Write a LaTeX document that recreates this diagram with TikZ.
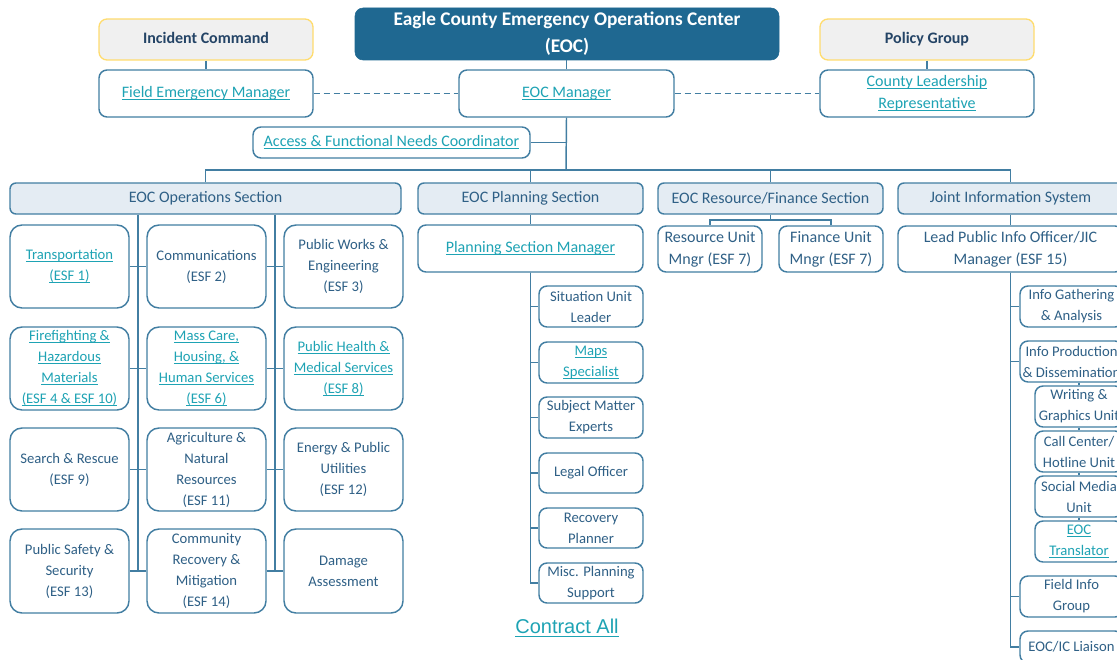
\documentclass[tikz,border=0pt]{standalone}
\usepackage{amsmath}
\usepackage{fontspec}
\setmainfont{Carlito}
\newfontfamily\arialf{Liberation Sans}
\usetikzlibrary{calc}
\definecolor{titlebg}{RGB}{31,104,145}
\definecolor{bord}{RGB}{66,126,162}
\definecolor{txt}{RGB}{47,96,134}
\definecolor{head}{RGB}{36,68,102}
\definecolor{lnk}{RGB}{30,163,180}
\definecolor{secbg}{RGB}{228,236,243}
\definecolor{grybg}{RGB}{240,240,240}
\definecolor{ylw}{RGB}{255,220,110}
\newcommand\lk[1]{\textcolor{lnk}{\underline{\smash[b]{#1}}}}
\newcommand\bx[7]{\node[#6, minimum width={(#4-#2)*0.75pt}, minimum height={(#5-#3)*0.75pt}] (#1) at ({(#2+#4)/2},{(#3+#5)/2}) {#7};}
\begin{document}
\begin{tikzpicture}[x=0.75pt,y=-0.75pt,
  base/.style={draw=bord, line width=1.1pt, align=center, inner sep=0pt, text=txt},
  titlebox/.style={fill=titlebg, draw=titlebg, rounded corners=6pt, text=white, align=center, inner sep=0pt, font=\bfseries\fontsize{14.5}{20.25}\selectfont},
  cmd/.style={fill=grybg, draw=ylw, line width=1pt, rounded corners=6pt, text=head, align=center, inner sep=0pt, text height=8.6pt, text depth=2.6pt, font=\bfseries\fontsize{12}{15}\selectfont},
  mgr/.style={base, fill=white, rounded corners=6pt, font=\fontsize{12}{16.5}\selectfont},
  sec/.style={base, fill=secbg, rounded corners=4.5pt, font=\fontsize{12}{15}\selectfont},
  esf/.style={base, fill=white, rounded corners=9pt, font=\fontsize{11}{15.75}\selectfont},
  subbox/.style={base, fill=white, rounded corners=6pt, font=\fontsize{11}{15.75}\selectfont},
  conn/.style={draw=bord, line width=1.1pt}]
\useasboundingbox (0,0) rectangle (1117,660);
\clip (0,0) rectangle (1117,660);
% top
\bx{title}{355}{8}{779}{60}{titlebox}{Eagle County Emergency Operations Center\\(EOC)}
\bx{ic}{99}{19}{313}{60}{cmd}{Incident Command}
\bx{pg}{820}{19}{1034}{60}{cmd}{Policy Group}
\bx{fem}{99}{70}{313}{117}{mgr}{\lk{Field Emergency Manager}}
\bx{eocm}{459}{70}{674}{117}{mgr}{\lk{EOC Manager}}
\bx{clr}{820}{70}{1034}{117}{mgr}{\lk{County Leadership}\\\lk{Representative}}
\bx{afn}{253}{127}{530}{158}{mgr}{\lk{Access \& Functional Needs Coordinator}}
% sections
\bx{ops}{10}{183}{401}{214}{sec}{EOC Operations Section}
\bx{plan}{418}{183}{643}{214}{sec}{EOC Planning Section}
\bx{rf}{658}{183}{883}{214}{sec}{EOC Resource/Finance Section}
\bx{jis}{898}{183}{1123}{214}{sec}{Joint Information System}
% ESF grid
\bx{a1}{10}{225}{129}{308}{esf}{\lk{Transportation}\\\lk{(ESF 1)}}
\bx{b1}{147}{225}{266}{308}{esf}{Communications\\(ESF 2)}
\bx{c1}{284}{225}{403}{308}{esf}{Public Works \&\\Engineering\\(ESF 3)}
\bx{a2}{10}{327}{129}{410}{esf}{\lk{Firefighting \&}\\\lk{Hazardous}\\\lk{Materials}\\\lk{(ESF 4 \& ESF 10)}}
\bx{b2}{147}{327}{266}{410}{esf}{\lk{Mass Care,}\\\lk{Housing, \&}\\\lk{Human Services}\\\lk{(ESF 6)}}
\bx{c2}{284}{327}{403}{410}{esf}{\lk{Public Health \&}\\\lk{Medical Services}\\\lk{(ESF 8)}}
\bx{a3}{10}{428}{129}{511}{esf}{Search \& Rescue\\(ESF 9)}
\bx{b3}{147}{428}{266}{511}{esf}{Agriculture \&\\Natural\\Resources\\(ESF 11)}
\bx{c3}{284}{428}{403}{511}{esf}{Energy \& Public\\Utilities\\(ESF 12)}
\bx{a4}{10}{529}{129}{613}{esf}{Public Safety \&\\Security\\(ESF 13)}
\bx{b4}{147}{529}{266}{613}{esf}{Community\\Recovery \&\\Mitigation\\(ESF 14)}
\bx{c4}{284}{529}{403}{613}{esf}{Damage\\Assessment}
% planning
\bx{psm}{418}{225}{643}{272}{mgr}{\lk{Planning Section Manager}}
\bx{p1}{539}{286}{643}{327}{subbox}{Situation Unit\\Leader}
\bx{p2}{539}{342}{643}{383}{subbox}{\lk{Maps}\\\lk{Specialist}}
\bx{p3}{539}{397}{643}{438}{subbox}{Subject Matter\\Experts}
\bx{p4}{539}{453}{643}{493}{subbox}{Legal Officer}
\bx{p5}{539}{508}{643}{548}{subbox}{Recovery\\Planner}
\bx{p6}{539}{563}{643}{603}{subbox}{Misc. Planning\\Support}
% resource/finance
\bx{ru}{658}{226}{762}{272}{mgr}{Resource Unit\\Mngr (ESF 7)}
\bx{fu}{779}{226}{883}{272}{mgr}{Finance Unit\\Mngr (ESF 7)}
% JIS
\bx{lpio}{898}{226}{1123}{272}{mgr}{Lead Public Info Officer/JIC\\Manager (ESF 15)}
\bx{ig}{1020}{286}{1123}{327}{subbox}{Info Gathering\\\& Analysis}
\bx{ip}{1020}{341}{1123}{382}{subbox}{Info Production\\\& Dissemination}
\bx{wg}{1035}{386}{1123}{427}{subbox}{Writing \&\\Graphics Unit}
\bx{cc}{1035}{431}{1123}{472}{subbox}{Call Center/\\Hotline Unit}
\bx{sm}{1035}{476}{1123}{517}{subbox}{Social Media\\Unit}
\bx{tr}{1035}{521}{1123}{562}{subbox}{\lk{EOC}\\\lk{Translator}}
\bx{fi}{1020}{576}{1123}{617}{subbox}{Field Info\\Group}
\bx{li}{1020}{631}{1123}{663}{subbox}{EOC/IC Liaison}
% contract all
\node[text=lnk, font=\arialf\fontsize{15}{18}\selectfont, inner sep=0pt] (ca) at (567,628) {\underline{\smash[b]{Contract All}}};
% connectors
\draw[conn] (ic.south) -- (fem.north);
\draw[conn] (pg.south) -- (clr.north);
\draw[conn] (eocm.north) -- (eocm.north |- title.south);
\draw[conn, dashed, dash pattern=on 4.5pt off 3pt] (fem.east) -- (eocm.west);
\draw[conn, dashed, dash pattern=on 4.5pt off 3pt] (eocm.east) -- (clr.west);
\coordinate (bus) at (566,170);
\draw[conn] (eocm.south) -- (bus);
\draw[conn] (afn.east) -- (afn.east -| eocm.south);
\draw[conn] (ops.north) |- (bus) -| (jis.north);
\draw[conn] (plan.north) -- (plan.north |- bus);
\draw[conn] (rf.north) -- (rf.north |- bus);
% ops internals
\path ($(a4.east)!.5!(b4.west)$) coordinate (v1e) ($(b4.east)!.5!(c4.west)$) coordinate (v2e);
\draw[conn] (v1e |- ops.south) -- (v1e);
\draw[conn] (v2e |- ops.south) -- (v2e);
\foreach \i in {1,...,4} {\draw[conn] (a\i.east) -- (b\i.west) (b\i.east) -- (c\i.west);}
% planning
\draw[conn] (plan.south) -- (psm.north);
\foreach \i in {1,...,6} {\draw[conn] (psm.south) |- (p\i.west);}
% resource finance
\coordinate (rfb) at (770.5,220);
\draw[conn] (rf.south) -- (rfb);
\draw[conn] (ru.north) |- (rfb) -| (fu.north);
% JIS
\draw[conn] (jis.south) -- (lpio.north);
\foreach \n in {ig,ip,fi,li} {\draw[conn] (lpio.south) |- (\n.west);}
\draw[conn] (wg.north) -- (wg.north |- ip.south);
\draw[conn] (cc.north) -- (wg.south);
\draw[conn] (sm.north) -- (cc.south);
\draw[conn] (tr.north) -- (sm.south);
\end{tikzpicture}
\end{document}
